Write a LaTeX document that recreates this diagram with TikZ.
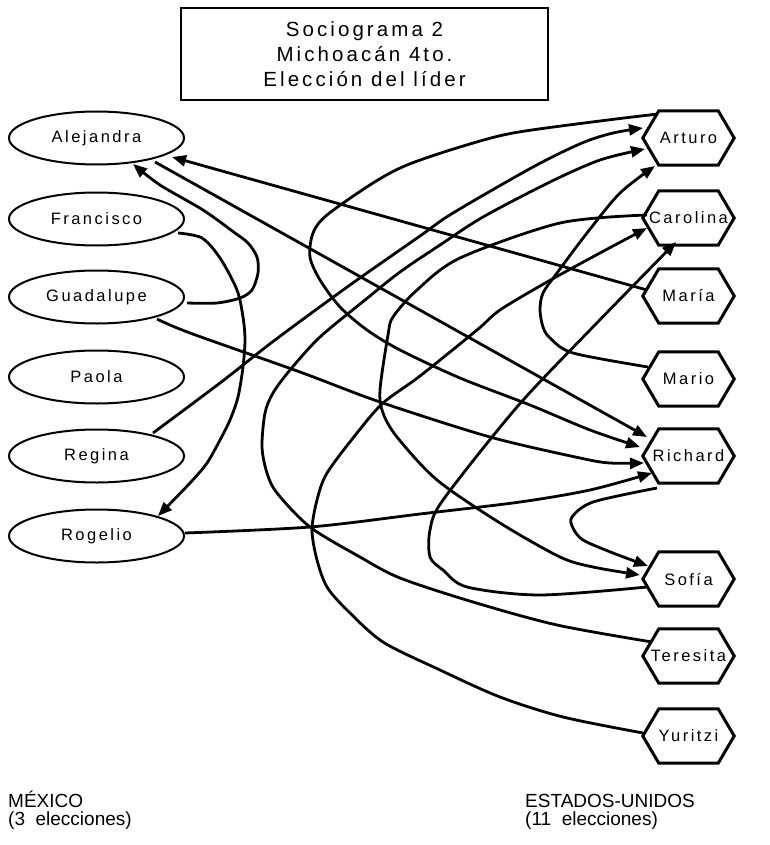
\documentclass[tikz,border=0pt]{standalone}
\usepackage{fontspec}
\setmainfont{Liberation Sans}
\newfontfamily\spaced[LetterSpace=15]{Liberation Sans}
\usetikzlibrary{arrows.meta,shapes.geometric,calc}
\begin{document}
\begin{tikzpicture}[x=1pt,y=-1pt,
  conn/.style={line width=2.8pt, line join=round},
  arr/.style={conn, -{Triangle[length=14pt,width=11pt]}},
  person/.style={ellipse, draw, line width=2pt, minimum width=175pt, minimum height=53pt, inner sep=0pt, font=\spaced\fontsize{16.5}{19}\selectfont},
  hexnode/.style={rectangle, minimum width=91pt, minimum height=54pt, inner sep=0pt, font=\spaced\fontsize{16.5}{19}\selectfont},
  hexline/.style={line width=3pt, line join=miter},
  titlebox/.style={draw, line width=2.4pt, minimum width=367pt, minimum height=92pt, align=center, inner sep=0pt, font=\spaced\fontsize{20.5}{25}\selectfont},
  note/.style={font=\fontsize{19}{19}\selectfont, anchor=base west, inner sep=0pt}
]
\useasboundingbox (0,0) rectangle (770,845);

% title
\node[titlebox] (title) at (364.5,54) {Sociograma 2\\Michoacán 4to.\\Elección del líder};

% Mexico
\node[person] (alejandra) at (96.5,138) {Alejandra};
\node[person] (francisco) at (96.5,219) {Francisco};
\node[person] (guadalupe) at (96.5,297) {Guadalupe};
\node[person] (paola)     at (96.5,377) {Paola};
\node[person] (regina)    at (96.5,456) {Regina};
\node[person] (rogelio)   at (96.5,536) {Rogelio};

% USA
\node[hexnode] (arturo)   at (688.5,138) {Arturo};
\node[hexnode] (carolina) at (688.5,218) {Carolina};
\node[hexnode] (maria)    at (688.5,296) {María};
\node[hexnode] (mario)    at (688.5,379) {Mario};
\node[hexnode] (richard)  at (688.5,456) {Richard};
\node[hexnode] (sofia)    at (688.5,579) {Sofía};
\node[hexnode] (teresita) at (688.5,656) {Teresita};
\node[hexnode] (yuritzi)  at (688.5,736) {Yuritzi};
\foreach \h in {arturo,carolina,maria,mario,richard,sofia,teresita,yuritzi}
  \draw[hexline] (\h.west) -- ([xshift=16pt]\h.north west) -- ([xshift=-16pt]\h.north east)
    -- (\h.east) -- ([xshift=-16pt]\h.south east) -- ([xshift=16pt]\h.south west) -- cycle;

% legends
\node[note] (mex)  at (8,807)   {MÉXICO};
\node[note] (mexn) at (8,825)   {(3~ elecciones)};
\node[note] (usa)  at (525,807) {ESTADOS-UNIDOS};
\node[note] (usan) at (525,825) {(11~ elecciones)};

% connectors
% Francisco -> Rogelio
\draw[arr] plot[smooth] coordinates {($(francisco.center)+(81.5,14)$) (202,238) (220,258) (237,290) (243,317) (245,340) (243,367) (238,397) (230,420) (220,440) (207,463) (190,483) ($(rogelio.center)+(61.5,-20)$)};
% Guadalupe -> Alejandra
\draw[arr] plot[smooth] coordinates {($(guadalupe.center)+(90.5,6)$) (217,303) (240,298) (252,290) (258,273) (257,257) (248,243) (235,233) (203,210) (160,185) ($(alejandra.center)+(36.5,26)$)};
% Maria -> Alejandra
\draw[arr] ($(maria.center)+(-41.5,-6)$) -- ($(alejandra.center)+(75.5,19)$);
% Alejandra -> Richard
\draw[arr] ($(alejandra.center)+(58.5,24)$) -- ($(richard.center)+(-41.5,-19)$);
% Arturo -> Richard
\draw[arr] plot[smooth] coordinates {($(arturo.center)+(-30.5,-24)$) (600,121) (513,133) (460,147) (407,165) (373,183) (327,215) (313,233) (310,257) (320,280) (340,307) (367,330) (400,350) (460,378) (530,405) (590,430) ($(richard.center)+(-48.5,-9)$)};
% Guadalupe -> Richard
\draw[arr] plot[smooth] coordinates {($(guadalupe.center)+(60.5,22)$) (190,333) (300,372) (380,402) (490,437) (580,458) (610,463) ($(richard.center)+(-44.5,7)$)};
% Rogelio -> Richard
\draw[arr] plot[smooth] coordinates {($(rogelio.center)+(88.5,-3)$) (310,527) (420,514) (520,502) (590,490) ($(richard.center)+(-36.5,17)$)};
% Regina -> Arturo
\draw[arr] plot[smooth] coordinates {($(regina.center)+(56.5,-23)$) (220,383) (275,340) (350,285) (420,236) (453,213) (533,167) (582,143) (613,133) ($(arturo.center)+(-45.5,-10)$)};
% Teresita -> Arturo
\draw[arr] plot[smooth] coordinates {($(teresita.center)+(-36.5,-14)$) (557,625) (473,602) (400,578) (360,557) (310,527) (277,493) (267,473) (262,447) (265,413) (273,393) (290,370) (320,337) (365,300) (400,272) (440,245) (483,217) (550,182) (600,160) ($(arturo.center)+(-43.5,11)$)};
% Mario -> Arturo
\draw[arr] plot[smooth] coordinates {($(mario.center)+(-40.5,-12)$) (573,353) (550,338) (543,327) (540,310) (543,293) (557,273) (587,233) (620,193) ($(arturo.center)+(-33.5,28)$)};
% Yuritzi -> Carolina
\draw[arr] plot[smooth] coordinates {($(yuritzi.center)+(-45.5,-3)$) (563,717) (500,697) (440,670) (383,642) (347,610) (327,587) (317,560) (312,530) (317,500) (327,473) (357,433) (383,403) (420,376) (477,330) (500,310) (547,282) (600,253) ($(carolina.center)+(-41.5,10)$)};
% Sofia -> Carolina
\draw[arr] plot[smooth] coordinates {($(sofia.center)+(-41.5,8)$) (540,595) (467,587) (443,570) (430,557) (430,530) (443,500) (517,407) (590,330) ($(carolina.center)+(-12.5,24)$)};
% Carolina -> Sofia
\draw[arr] plot[smooth] coordinates {($(carolina.center)+(-41.5,-3)$) (560,223) (460,258) (417,290) (393,317) (388,335) (380,390) (383,413) (397,437) (437,480) (500,523) (560,557) (593,567) ($(sofia.center)+(-48.5,-4)$)};
% Richard -> Sofia
\draw[arr] plot[smooth] coordinates {($(richard.center)+(-31.5,32)$) (593,502) (572,517) (573,528) (583,540) (613,553) ($(sofia.center)+(-40.5,-13)$)};
\end{tikzpicture}
\end{document}
